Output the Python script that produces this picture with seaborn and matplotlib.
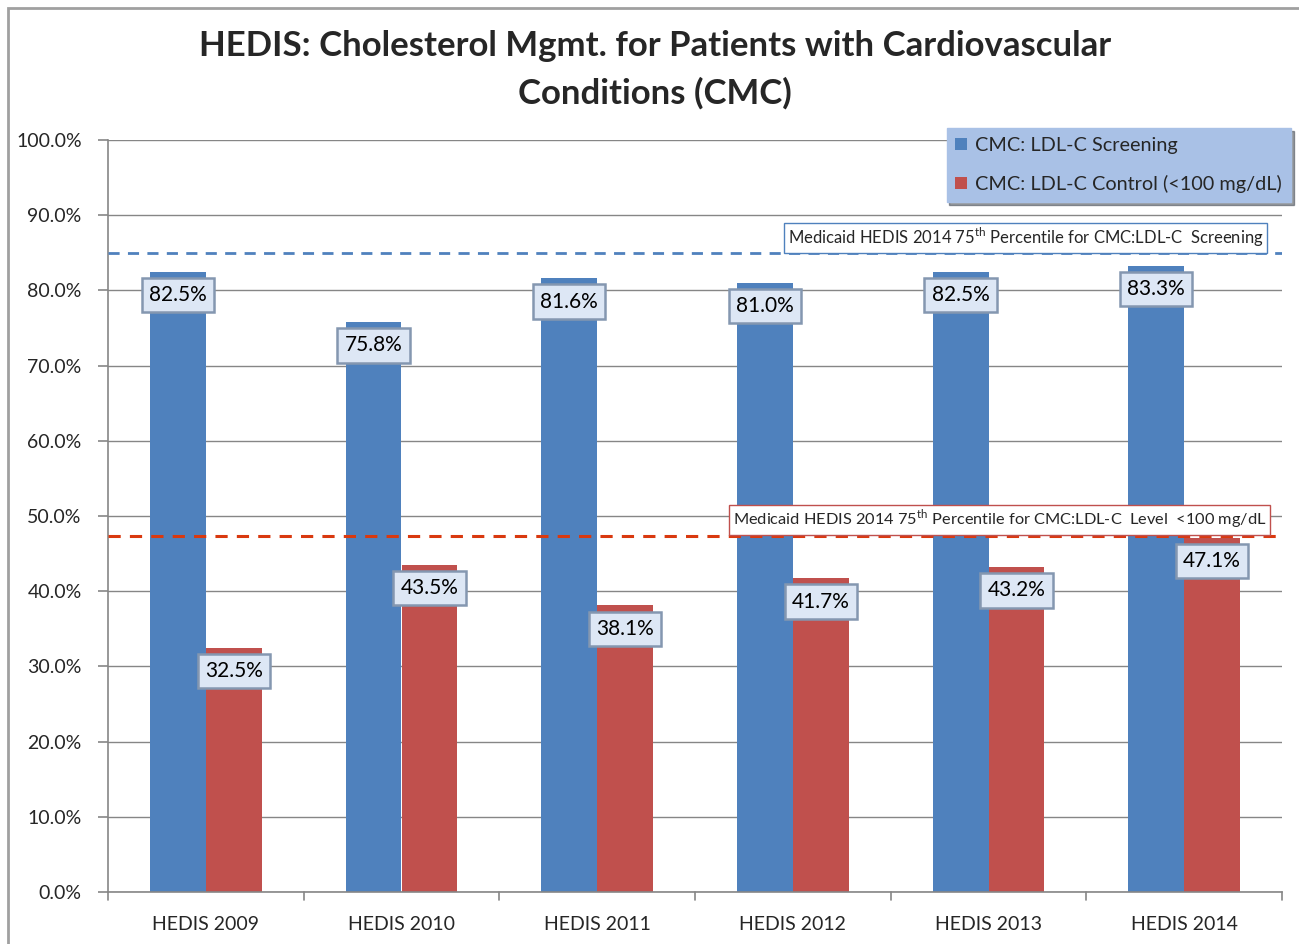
import matplotlib
matplotlib.use("Agg")
import matplotlib.pyplot as plt
import seaborn as sns
import pandas as pd
import numpy as np
from matplotlib.patches import Rectangle

categories = ["HEDIS 2009", "HEDIS 2010", "HEDIS 2011", "HEDIS 2012", "HEDIS 2013", "HEDIS 2014"]
screening = [82.5, 75.8, 81.6, 81.0, 82.5, 83.3]
control = [32.5, 43.5, 38.1, 41.7, 43.2, 47.1]
series_names = ["CMC: LDL-C Screening", "CMC: LDL-C Control (<100 mg/dL)"]
benchmark_screening = 85.0
benchmark_control = 47.4
bench_label_screen = r"Medicaid HEDIS 2014 75$^{\mathrm{th}}$ Percentile for CMC:LDL-C  Screening"
bench_label_control = r"Medicaid HEDIS 2014 75$^{\mathrm{th}}$ Percentile for CMC:LDL-C  Level  <100 mg/dL"
title = "HEDIS: Cholesterol Mgmt. for Patients with Cardiovascular\nConditions (CMC)"

blue = "#4f81bd"
red = "#c0504d"

sns.set_theme(style="white")
plt.rcParams["font.family"] = ["Lato", "DejaVu Sans"]
plt.rcParams["mathtext.fontset"] = "custom"
plt.rcParams["mathtext.rm"] = "Lato"

df = pd.DataFrame({
    "cat": categories * 2,
    "val": screening + control,
    "series": [series_names[0]] * len(categories) + [series_names[1]] * len(categories),
})

fig = plt.figure(figsize=(12.99, 9.44), dpi=100)
ax = fig.add_axes([108/1299, 52/944, 1174/1299, 752/944])

sns.barplot(data=df, x="cat", y="val", hue="series", palette=[blue, red],
            width=0.572, ax=ax, saturation=1, legend=True, edgecolor="none", linewidth=0)

ax.set_ylim(0, 100)
ax.set_xlim(-0.5, len(categories) - 0.5)
ax.set_yticks(np.arange(0, 101, 10))
ax.set_yticklabels([f"{v:.1f}%" for v in np.arange(0, 101, 10)], fontsize=14)
ax.set_xticks(range(len(categories)))
ax.set_xticklabels(categories, fontsize=14)
ax.tick_params(axis="x", length=0, pad=17)
ax.tick_params(axis="y", length=7, color="#868686", width=1.2, pad=12, left=True)
ax.set_xlabel("")
ax.set_ylabel("")
ax.yaxis.grid(True, color="#868686", linewidth=1.0)
ax.set_axisbelow(True)
for s in ["top", "right"]:
    ax.spines[s].set_visible(False)
for s in ["left", "bottom"]:
    ax.spines[s].set_color("#868686")
    ax.spines[s].set_linewidth(1.2)
# category boundary ticks on x axis
for b in np.arange(-0.5, len(categories), 1.0):
    ax.plot([b, b], [0, -1.0], color="#868686", lw=1.2, clip_on=False)

# value labels
for cont in ax.containers:
    for bar in cont:
        h = bar.get_height()
        cx = bar.get_x() + bar.get_width() / 2
        ax.text(cx, h - 3.1, f"{h:.1f}%", ha="center", va="center", fontsize=15, color="black",
                zorder=5,
                bbox=dict(boxstyle="square,pad=0.35", facecolor="#dde7f5", edgecolor="#8497b0", linewidth=1.8))

# benchmark lines
ax.axhline(benchmark_screening, color="#4f81bd", linestyle=(0, (4, 3)), linewidth=2, zorder=3)
ax.axhline(benchmark_control, color="#d9390f", linestyle=(0, (4, 3)), linewidth=2.2, zorder=6)
ax.text(0.5790, benchmark_screening + 0.45, bench_label_screen, transform=ax.get_yaxis_transform(),
        fontsize=12, ha="left", va="bottom", zorder=4,
        bbox=dict(boxstyle="square,pad=0.2", facecolor="white", edgecolor="#4f81bd", linewidth=1))
ax.text(0.5320, benchmark_control + 0.55, bench_label_control, transform=ax.get_yaxis_transform(),
        fontsize=11.8, ha="left", va="bottom", zorder=7,
        bbox=dict(boxstyle="square,pad=0.2", facecolor="white", edgecolor="#c0504d", linewidth=1))

# legend
leg = ax.legend(loc="upper right", bbox_to_anchor=(1291/1299, 1 - 128/944), bbox_transform=fig.transFigure,
                fontsize=14.3, frameon=True, fancybox=False, handlelength=0.6, handleheight=0.6,
                handletextpad=0.4, borderpad=0.45, labelspacing=1.05, shadow=True, borderaxespad=0)
leg.get_frame().set_facecolor("#a9c1e6")
leg.get_frame().set_edgecolor("#a9c1e6")

fig.suptitle(title, fontsize=25, fontweight="bold", x=655/1299, y=1 - 30/944, va="top", linespacing=1.55)

# figure border
fig.patches.append(Rectangle((8/1299, -0.1), 1.2, 1 - 8/944 + 0.1, transform=fig.transFigure,
                             fill=False, edgecolor="#a0a0a0", linewidth=2))

fig.savefig("out.png", dpi=100)
